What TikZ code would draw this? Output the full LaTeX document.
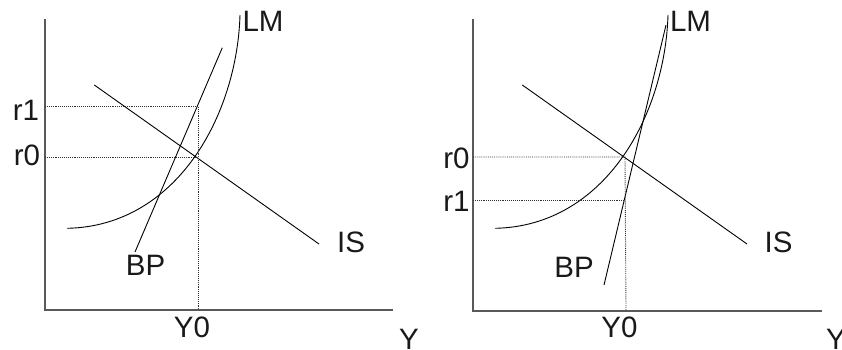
\documentclass[tikz,border=0pt]{standalone}
\usepackage{fontspec}
\setmainfont{Liberation Sans}
\begin{document}
\begin{tikzpicture}[x=1pt,y=-1pt,
  lbl/.style={inner sep=0pt,font=\fontsize{29.5}{34}\selectfont,text=black!90},
  axisline/.style={draw=black!65,line width=1.2pt},
  curveline/.style={draw=black,line width=0.9pt},
  guide/.style={draw=black!80,densely dotted,line width=0.9pt}]
\useasboundingbox (0,0) rectangle (842,349);
% ---------- left panel ----------
\coordinate (La) at (45,19);
\coordinate (Lo) at (45,310);
\coordinate (Lx) at (393,310);
\draw[axisline] (La) -- (Lo) -- (Lx);
\coordinate (LLMs) at (67.3,228.3);
\coordinate (LLMe) at (240,15);
\draw[curveline] (LLMs) .. controls (177,226) and (237,115) .. (LLMe);
\coordinate (LBPs) at (135,252);
\coordinate (LBPe) at (222.3,47.7);
\draw[curveline] (LBPs) -- (LBPe);
\coordinate (LISs) at (94.3,85);
\coordinate (LISe) at (319,244);
\draw[curveline] (LISs) -- (LISe);
\coordinate (Lr1a) at (45,106);
\coordinate (LE1) at (198,106);
\coordinate (Lr0a) at (45,157);
\coordinate (LE0) at (197,157);
\coordinate (LY0) at (198,310);
\draw[guide] (Lr1a) -- (LE1) -- (LY0);
\draw[guide] (Lr0a) -- (LE0);
\node[lbl] (lLM) at (263,21) {LM};
\node[lbl] (lr1) at (26,110) {r1};
\node[lbl] (lr0) at (27,155) {r0};
\node[lbl] (lBP) at (145.5,265) {BP};
\node[lbl] (lIS) at (351,242) {IS};
\node[lbl] (lY0) at (192,327) {Y0};
\node[lbl] (lY) at (409,339) {Y};
% ---------- right panel ----------
\coordinate (Ra) at (473,19);
\coordinate (Ro) at (473,311);
\coordinate (Rx) at (822,311);
\draw[axisline] (Ra) -- (Ro) -- (Rx);
\coordinate (RLMs) at (495.3,228.3);
\coordinate (RLMe) at (668,15);
\draw[curveline] (RLMs) .. controls (605,226) and (665,115) .. (RLMe);
\coordinate (RBPs) at (604,285);
\coordinate (RBPe) at (666,25);
\draw[curveline] (RBPs) -- (RBPe);
\coordinate (RISs) at (522.3,85);
\coordinate (RISe) at (747,244);
\draw[curveline] (RISs) -- (RISe);
\coordinate (Rr0a) at (473,157);
\coordinate (RE0) at (625,157);
\coordinate (Rr1a) at (473,200);
\coordinate (RE1) at (625,200);
\coordinate (RY0) at (626,311);
\draw[guide] (Rr0a) -- (RE0) -- (RY0);
\draw[guide] (Rr1a) -- (RE1);
\node[lbl] (rLM) at (690.5,21) {LM};
\node[lbl] (rr0) at (456.5,158) {r0};
\node[lbl] (rr1) at (456.5,201) {r1};
\node[lbl] (rBP) at (574,267) {BP};
\node[lbl] (rIS) at (778.5,242) {IS};
\node[lbl] (rY0) at (619.5,327) {Y0};
\node[lbl] (rY) at (836,339) {Y};
\end{tikzpicture}
\end{document}
